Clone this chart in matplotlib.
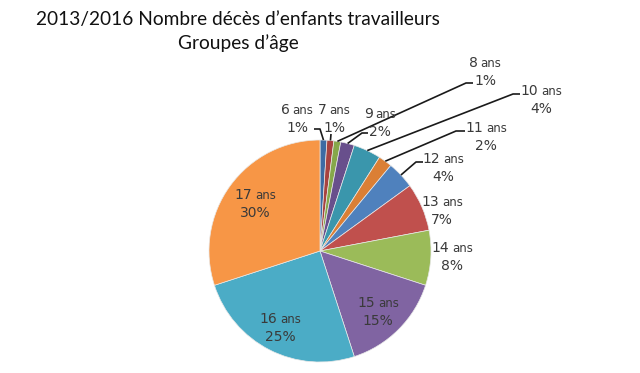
import matplotlib
matplotlib.use("Agg")
import matplotlib.pyplot as plt
import numpy as np
from matplotlib.offsetbox import TextArea, HPacker, VPacker, AnnotationBbox

# ---- data ----
ages = ["6", "7", "8", "9", "10", "11", "12", "13", "14", "15", "16", "17"]
percents = [1, 1, 1, 2, 4, 2, 4, 7, 8, 15, 25, 30]
colors = ["#3D6BA3", "#A8423F", "#86A84A", "#684F8C", "#3A96AC", "#DB7F35",
          "#4F81BD", "#C0504D", "#9BBB59", "#8064A2", "#4BACC6", "#F79646"]
title_lines = ["2013/2016 Nombre décès d\u2019enfants travailleurs", "Groupes d\u2019âge"]

W, H = 640, 373
fig = plt.figure(figsize=(6.4, 3.73), dpi=100)
ax = fig.add_axes([0, 0, 1, 1])

cx, cy, R = 320, H - 251, 111
wedges, _ = ax.pie(percents, colors=colors, startangle=90, counterclock=False,
                   center=(cx, cy), radius=R,
                   wedgeprops=dict(edgecolor="#e8e8e8", linewidth=0.5))
ax.set_xlim(0, W)
ax.set_ylim(0, H)
ax.set_aspect("equal")
ax.axis("off")

def py(y):
    return H - y

# label centers (pixel coords) and leader elbows
label_pos = {
    "6": (297, 119), "7": (334, 119), "8": (485, 72), "9": (380, 123),
    "10": (541, 100), "11": (486, 137), "12": (443, 168), "13": (442, 211),
    "14": (452, 257), "15": (378, 312), "16": (280, 328), "17": (255, 204),
}
leaders = {
    "6": [(320, 129), (314, 129)],
    "7": [(331, 134)],
    "8": [(466, 83), (473, 83)],
    "9": [(362, 133), (368, 133)],
    "10": [(513, 94), (520, 94)],
    "11": [(456, 131), (465, 131)],
    "12": [(416, 162), (423, 162)],
}

tc = "#3a3a3a"
for w, age, pct in zip(wedges, ages, percents):
    x, y = label_pos[age]
    line1 = HPacker(children=[TextArea(age, textprops=dict(size=10, color=tc)),
                              TextArea("ans", textprops=dict(size=8.5, color=tc))],
                    pad=0, sep=2, align="baseline")
    line2 = TextArea(f"{pct}%", textprops=dict(size=10, color=tc))
    box = VPacker(children=[line1, line2], pad=0, sep=3, align="center")
    ab = AnnotationBbox(box, (x, py(y)), frameon=False, box_alignment=(0.5, 0.5))
    ax.add_artist(ab)
    if age in leaders:
        ang = np.deg2rad((w.theta1 + w.theta2) / 2)
        ex, ey = cx + R * np.cos(ang), cy + R * np.sin(ang)
        pts = [(ex, ey)] + [(px, py(pyy)) for px, pyy in leaders[age]]
        xs, ys = zip(*pts)
        ax.plot(xs, ys, color="#1a1a1a", lw=1.2, solid_capstyle="butt")

fig.text(238 / W, 1 - 19 / H, title_lines[0], ha="center", va="center",
         fontsize=13.8, family="Lato", color="#111111")
fig.text(238 / W, 1 - 43 / H, title_lines[1], ha="center", va="center",
         fontsize=13.8, family="Lato", color="#111111")

fig.savefig("out.png", dpi=100)
